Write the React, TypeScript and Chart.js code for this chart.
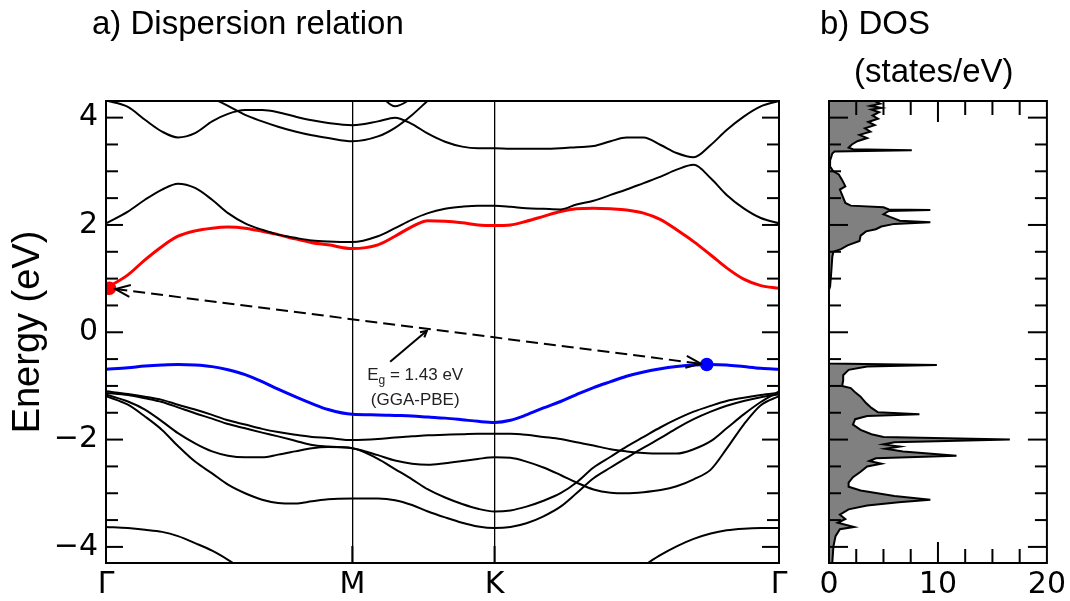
import React, { useEffect, useRef } from "react";
import { Chart, registerables } from "chart.js";

Chart.register(...registerables);

// ---------------- data ----------------
// k-path positions (Γ = 0, M = 0.866, K = 1.366, Γ = 2.366)
const K_POINTS = [
  0, 0.077, 0.137, 0.197, 0.253, 0.313, 0.373, 0.429, 0.489, 0.549, 0.605, 0.665, 0.724, 0.781, 0.866,
  0.956, 1.016, 1.076, 1.132, 1.192, 1.252, 1.308, 1.366,
  1.422, 1.478, 1.538, 1.598, 1.654, 1.714, 1.774, 1.83, 1.89, 1.95, 2.006, 2.066, 2.126, 2.182, 2.242, 2.302, 2.366,
];
const K_LABEL_POS = [0, 0.866, 1.366, 2.366];
const K_LABELS = ["Γ", "M", "K", "Γ"];
const E_MIN = -4.3;
const E_MAX = 4.31;
const E_LABEL_TICKS = [-4, -2, 0, 2, 4];

// conduction bands
const CB_RED = [
  0.82, 1.07, 1.35, 1.6, 1.79, 1.89, 1.94, 1.96, 1.94, 1.88, 1.82, 1.74, 1.67, 1.63, 1.56,
  1.63, 1.79, 1.97, 2.08, 2.07, 2.04, 2.0, 1.99,
  2.0, 2.07, 2.16, 2.25, 2.3, 2.31, 2.3, 2.28, 2.22, 2.1, 1.91, 1.69, 1.44, 1.2, 0.99, 0.87, 0.82,
];
const CB_2 = [
  2.03, 2.25, 2.47, 2.66, 2.77, 2.69, 2.47, 2.22, 2.03, 1.91, 1.82, 1.76, 1.71, 1.69, 1.68,
  1.79, 1.94, 2.1, 2.22, 2.3, 2.34, 2.36, 2.36,
  2.34, 2.31, 2.3, 2.29, 2.38, 2.45, 2.56, 2.66, 2.78, 2.9, 3.03, 3.12, 2.87, 2.56, 2.31, 2.13, 2.03,
];
const CB_3 = [
  4.32, 4.2, 3.96, 3.74, 3.63, 3.71, 3.93, 4.07, 4.14, 4.14, 4.1, 4.02, 3.95, 3.9, 3.86,
  3.93, 4.0, 3.88, 3.7, 3.55, 3.46, 3.43, 3.43,
  3.42, 3.42, 3.42, 3.43, 3.45, 3.47, 3.56, 3.63, 3.63, 3.49, 3.34, 3.26, 3.49, 3.77, 4.02, 4.21, 4.31,
];
const CB_4 = [
  null, null, null, 5.0, 4.8, 4.6, 4.37, 4.22, 4.05, 3.93, 3.83, 3.74, 3.67, 3.62, 3.56,
  3.65, 3.81, 4.05, 4.32, 4.6, 4.85, null, null,
  null, null, null, null, null, null, null, null, null, null, null, null, null, null, null, null, null,
];
const CB_5 = [
  null, null, null, null, null, null, null, null, null, null, null, null, null, null, 4.7,
  4.45, 4.21, 4.36, 4.55, null, null, null, null,
  null, null, null, null, null, null, null, null, null, null, null, null, null, null, null, null, null,
];

// valence bands
const VB_BLUE = [
  -0.69, -0.66, -0.63, -0.61, -0.6, -0.61, -0.64, -0.7, -0.79, -0.92, -1.06, -1.2, -1.33, -1.44, -1.53,
  -1.54, -1.55, -1.56, -1.58, -1.6, -1.63, -1.66, -1.68,
  -1.64, -1.54, -1.41, -1.29, -1.16, -1.03, -0.92, -0.82, -0.74, -0.68, -0.64, -0.61, -0.6, -0.61, -0.64, -0.67, -0.69,
];
const VB_2 = [
  -1.1, -1.15, -1.2, -1.26, -1.35, -1.44, -1.54, -1.64, -1.72, -1.8, -1.86, -1.91, -1.95, -1.97, -2.01,
  -1.99, -1.96, -1.94, -1.92, -1.91, -1.9, -1.89, -1.89,
  -1.89, -1.91, -1.95, -1.99, -2.05, -2.11, -2.18, -2.22, -2.25, -2.26, -2.26, -2.18, -2.03, -1.79, -1.53, -1.3, -1.1,
];
const VB_3 = [
  -1.13, -1.17, -1.23, -1.3, -1.4, -1.51, -1.61, -1.71, -1.79, -1.87, -1.94, -2.02, -2.1, -2.13, -2.16,
  -2.29, -2.39, -2.45, -2.47, -2.44, -2.4, -2.36, -2.33,
  -2.34, -2.41, -2.52, -2.66, -2.8, -2.93, -2.99, -3.0, -2.98, -2.94, -2.87, -2.74, -2.56, -2.17, -1.72, -1.36, -1.19,
];
const VB_4 = [
  -1.16, -1.29, -1.44, -1.66, -1.88, -2.07, -2.22, -2.3, -2.33, -2.33, -2.28, -2.22, -2.16, -2.14, -2.16,
  -2.36, -2.55, -2.74, -2.93, -3.08, -3.2, -3.29, -3.34,
  -3.32, -3.25, -3.14, -3.0, -2.8, -2.52, -2.32, -2.13, -1.95, -1.77, -1.62, -1.48, -1.37, -1.28, -1.22, -1.17, -1.13,
];
const VB_5 = [
  -1.19, -1.35, -1.57, -1.82, -2.12, -2.41, -2.63, -2.84, -3.0, -3.12, -3.18, -3.19, -3.15, -3.11, -3.1,
  -3.1, -3.13, -3.22, -3.34, -3.45, -3.55, -3.62, -3.65,
  -3.63, -3.56, -3.43, -3.25, -3.0, -2.72, -2.52, -2.34, -2.15, -1.97, -1.79, -1.62, -1.48, -1.37, -1.28, -1.21, -1.16,
];
const VB_6 = [
  -3.63, -3.65, -3.68, -3.72, -3.8, -3.93, -4.07, -4.24, -4.45, -4.65, null, null, null, null, null,
  null, null, null, null, null, null, null, null,
  null, null, null, null, null, null, null, -4.55, -4.35, -4.15, -3.99, -3.85, -3.75, -3.69, -3.66, -3.65, -3.65,
];

// band edges
const CBM_K = 0.012;
const CBM_E = 0.82;
const VBM_K = 2.112;
const VBM_E = -0.6;
const GAP_TEXT = " = 1.43 eV";
const GAP_METHOD = "(GGA-PBE)";

// density of states (energy in eV, states/eV)
const DOS_ENERGY = [
  4.31, 4.26, 4.22, 4.18, 4.15, 4.1, 4.04, 3.98, 3.92, 3.86, 3.8, 3.74, 3.68, 3.62, 3.56, 3.5, 3.44, 3.41, 3.39, 3.37,
  3.33, 3.2, 3.09, 3.0, 2.94, 2.84, 2.72, 2.66, 2.56, 2.41, 2.36, 2.33, 2.29, 2.28, 2.26, 2.2, 2.15, 2.08, 2.05, 2.02,
  1.97, 1.92, 1.88, 1.8, 1.7, 1.62, 1.55, 1.5, 1.4, 1.1, 0.85, 0.79, -0.58, -0.61, -0.64, -0.7, -0.8, -0.9, -1.0, -1.04,
  -1.12, -1.2, -1.32, -1.41, -1.49, -1.53, -1.56, -1.62, -1.72, -1.82, -1.9, -1.95, -2.0, -2.05, -2.09, -2.13, -2.17, -2.22, -2.3, -2.35,
  -2.4, -2.45, -2.5, -2.6, -2.7, -2.8, -2.88, -2.95, -3.05, -3.12, -3.17, -3.23, -3.3, -3.4, -3.48, -3.55, -3.63, -3.67, -3.8, -4.0,
  -4.3,
];
const DOS_STATES = [
  4.2, 4.7, 3.8, 4.8, 3.9, 4.6, 4.0, 4.5, 3.6, 4.2, 3.3, 3.8, 2.8, 3.5, 2.6, 2.1, 1.8, 2.2, 7.6, 0.5,
  0.3, 0.1, 0.1, 0.4, 0.9, 1.2, 1.5, 1.0, 1.2, 1.5, 2.0, 5.0, 5.5, 9.3, 5.5, 5.0, 5.6, 6.5, 9.3, 6.0,
  4.8, 4.3, 3.4, 2.9, 2.8, 1.7, 1.1, 0.4, 0.3, 0.2, 0.1, 0, 0, 9.9, 3.5, 1.8, 1.3, 1.3, 1.2, 2.0,
  2.4, 2.9, 3.4, 3.9, 4.5, 8.3, 3.5, 2.4, 2.2, 2.9, 3.9, 5.0, 16.6, 6.0, 5.0, 6.5, 5.2, 6.8, 11.7, 4.3,
  3.7, 4.8, 3.5, 2.9, 2.2, 1.8, 1.8, 2.9, 6.0, 9.3, 6.4, 3.5, 1.8, 1.0, 1.5, 0.8, 2.3, 1.0, 0.6, 0.4,
  0.3,
];
const DOS_LABEL_TICKS = [0, 10, 20];

// ---------------- helpers ----------------
const TITLE_FONT = '"Liberation Sans", Arial, sans-serif';
const TICK_FONT = '"DejaVu Sans", sans-serif';
const fmtE = (v: number) => (v < 0 ? "\u2212" + Math.abs(v) : String(v));
const toPoints = (vals: (number | null)[]) => K_POINTS.map((k, i) => ({ x: k, y: vals[i] }));

const bandSet = (vals: (number | null)[], color: string, width: number) => ({
  data: toPoints(vals),
  borderColor: color,
  borderWidth: width,
  pointRadius: 0,
  cubicInterpolationMode: "monotone",
  fill: false,
  spanGaps: false,
});

const dotSet = (k: number, e: number, color: string) => ({
  data: [{ x: k, y: e }],
  showLine: false,
  clip: 0,
  pointRadius: 6.8,
  pointBackgroundColor: color,
  pointBorderWidth: 0,
  borderWidth: 0,
  borderColor: color,
});

function seg(ctx: any, x1: number, y1: number, x2: number, y2: number) {
  ctx.beginPath();
  ctx.moveTo(x1, y1);
  ctx.lineTo(x2, y2);
  ctx.stroke();
}

function openHead(ctx: any, tx: number, ty: number, ang: number, hl: number, ha: number) {
  ctx.beginPath();
  ctx.moveTo(tx - hl * Math.cos(ang - ha), ty - hl * Math.sin(ang - ha));
  ctx.lineTo(tx, ty);
  ctx.lineTo(tx - hl * Math.cos(ang + ha), ty - hl * Math.sin(ang + ha));
  ctx.stroke();
}

const bandDecor = {
  id: "bandDecor",
  afterDraw(chart: any) {
    const { ctx, chartArea: a } = chart;
    const xs = chart.scales.x;
    const ys = chart.scales.y;
    ctx.save();
    ctx.strokeStyle = "#000";
    ctx.lineWidth = 2;
    for (let i = -8; i <= 8; i++) {
      const v = i / 2;
      const py = ys.getPixelForValue(v);
      const len = E_LABEL_TICKS.includes(v) ? 17 : 12;
      seg(ctx, a.left, py, a.left + len, py);
      seg(ctx, a.right, py, a.right - len, py);
    }
    for (const k of [K_LABEL_POS[1], K_LABEL_POS[2]]) {
      const px = xs.getPixelForValue(k);
      seg(ctx, px, a.bottom, px, a.bottom - 17);
    }
    ctx.strokeRect(a.left, a.top, a.right - a.left, a.bottom - a.top);

    // dashed gap arrow from CBM to VBM
    const x1 = xs.getPixelForValue(CBM_K);
    const y1 = ys.getPixelForValue(CBM_E);
    const x2 = xs.getPixelForValue(VBM_K);
    const y2 = ys.getPixelForValue(VBM_E);
    const dx = x2 - x1;
    const dy = y2 - y1;
    const L = Math.hypot(dx, dy);
    const ux = dx / L;
    const uy = dy / L;
    const sx = x1 + ux * 6;
    const sy = y1 + uy * 6;
    const ex = x2 - ux * 6;
    const ey = y2 - uy * 6;
    ctx.lineWidth = 2;
    ctx.setLineDash([12, 6]);
    seg(ctx, sx, sy, ex, ey);
    ctx.setLineDash([]);
    const ang = Math.atan2(dy, dx);
    openHead(ctx, ex, ey, ang, 16, 0.38);
    openHead(ctx, sx, sy, ang + Math.PI, 16, 0.38);

    // annotation arrow pointing at dashed line
    const hx = xs.getPixelForValue(1.128);
    const hy = y1 + ((hx - x1) / dx) * dy + 2;
    const tx = xs.getPixelForValue(0.999);
    const ty = ys.getPixelForValue(-0.55);
    ctx.lineWidth = 2;
    seg(ctx, tx, ty, hx, hy);
    openHead(ctx, hx, hy, Math.atan2(hy - ty, hx - tx), 7, 0.5);

    // annotation text
    const cx = xs.getPixelForValue(1.087);
    const b1 = ys.getPixelForValue(-0.885);
    const b2 = ys.getPixelForValue(-1.35);
    ctx.fillStyle = "#222";
    ctx.textBaseline = "alphabetic";
    ctx.textAlign = "left";
    ctx.font = `17px ${TITLE_FONT}`;
    const wE = ctx.measureText("E").width;
    const wR = ctx.measureText(GAP_TEXT).width;
    ctx.font = `12px ${TITLE_FONT}`;
    const wG = ctx.measureText("g").width;
    const total = wE + wG + wR;
    const px0 = cx - total / 2;
    ctx.font = `17px ${TITLE_FONT}`;
    ctx.fillText("E", px0, b1);
    ctx.font = `12px ${TITLE_FONT}`;
    ctx.fillText("g", px0 + wE, b1 + 4);
    ctx.font = `17px ${TITLE_FONT}`;
    ctx.fillText(GAP_TEXT, px0 + wE + wG, b1);
    ctx.textAlign = "center";
    ctx.fillText(GAP_METHOD, cx, b2);

    // panel title
    ctx.fillStyle = "#000";
    ctx.textAlign = "left";
    ctx.font = `33px ${TITLE_FONT}`;
    ctx.fillText("a) Dispersion relation", 92, 34);
    ctx.restore();
  },
};

const dosDecor = {
  id: "dosDecor",
  afterDraw(chart: any) {
    const { ctx, chartArea: a } = chart;
    const xs = chart.scales.x;
    const ys = chart.scales.y;
    ctx.save();
    ctx.strokeStyle = "#000";
    ctx.lineWidth = 2;
    for (let i = -8; i <= 8; i++) {
      const v = i / 2;
      const py = ys.getPixelForValue(v);
      const len = E_LABEL_TICKS.includes(v) ? 19 : 12;
      seg(ctx, a.left, py, a.left + len, py);
      seg(ctx, a.right, py, a.right - len, py);
    }
    for (let i = 1; i < 8; i++) {
      const v = i * 2.5;
      const px = xs.getPixelForValue(v);
      const len = DOS_LABEL_TICKS.includes(v) ? 21 : 14;
      seg(ctx, px, a.bottom, px, a.bottom - len);
      seg(ctx, px, a.top, px, a.top + len);
    }
    ctx.strokeRect(a.left, a.top, a.right - a.left, a.bottom - a.top);
    ctx.fillStyle = "#000";
    ctx.textAlign = "left";
    ctx.textBaseline = "alphabetic";
    ctx.font = `33px ${TITLE_FONT}`;
    ctx.fillText("b) DOS", 20, 34);
    ctx.fillText("(states/eV)", 54, 82);
    ctx.restore();
  },
};

function bandConfig(): any {
  return {
    type: "line",
    data: {
      datasets: [
        dotSet(VBM_K, VBM_E, "#0000ff"),
        dotSet(CBM_K, CBM_E, "#ff0000"),
        bandSet(CB_2, "#000", 2),
        bandSet(CB_3, "#000", 2),
        bandSet(CB_4, "#000", 2),
        bandSet(CB_5, "#000", 2),
        bandSet(VB_2, "#000", 2),
        bandSet(VB_3, "#000", 2),
        bandSet(VB_4, "#000", 2),
        bandSet(VB_5, "#000", 2),
        bandSet(VB_6, "#000", 2),
        bandSet(CB_RED, "#ff0000", 3),
        bandSet(VB_BLUE, "#0000ff", 3),
      ],
    },
    options: {
      responsive: false,
      animation: false,
      events: [],
      layout: { padding: { left: 0, top: 101, right: 21, bottom: 0 } },
      plugins: { legend: { display: false }, tooltip: { enabled: false }, title: { display: false } },
      scales: {
        x: {
          type: "linear",
          min: 0,
          max: 2.366,
          afterBuildTicks: (s: any) => {
            s.ticks = K_LABEL_POS.map((v) => ({ value: v }));
          },
          afterFit: (s: any) => {
            s.height = 38;
          },
          ticks: {
            autoSkip: false,
            maxRotation: 0,
            padding: 4,
            color: "#000",
            font: { family: TICK_FONT, size: 30 },
            callback: (_v: any, i: number) => K_LABELS[i],
          },
          grid: {
            drawTicks: false,
            lineWidth: 1.3,
            color: (c: any) => (c.index === 1 || c.index === 2 ? "#000" : "rgba(0,0,0,0)"),
          },
          border: { display: false },
        },
        y: {
          type: "linear",
          min: E_MIN,
          max: E_MAX,
          afterBuildTicks: (s: any) => {
            s.ticks = E_LABEL_TICKS.map((v) => ({ value: v }));
          },
          afterFit: (s: any) => {
            s.width = 106;
          },
          ticks: {
            padding: 8,
            color: "#000",
            font: { family: TICK_FONT, size: 30 },
            callback: (v: any) => fmtE(Number(v)),
          },
          grid: { display: false, drawTicks: false },
          border: { display: false },
          title: {
            display: true,
            text: "Energy (eV)",
            color: "#000",
            font: { family: TITLE_FONT, size: 38 },
            padding: { top: 6, bottom: 0 },
          },
        },
      },
    },
    plugins: [bandDecor],
  };
}

function dosConfig(): any {
  const pts = DOS_ENERGY.map((e, i) => ({ x: DOS_STATES[i], y: e })).reverse();
  return {
    type: "line",
    data: {
      datasets: [
        {
          data: pts,
          borderColor: "#000",
          borderWidth: 2,
          backgroundColor: "#808080",
          fill: "origin",
          pointRadius: 0,
          tension: 0,
        },
      ],
    },
    options: {
      indexAxis: "y",
      responsive: false,
      animation: false,
      events: [],
      layout: { padding: { left: 29, top: 101, right: 23, bottom: 0 } },
      plugins: { legend: { display: false }, tooltip: { enabled: false }, title: { display: false } },
      scales: {
        x: {
          type: "linear",
          min: 0,
          max: 20,
          afterBuildTicks: (s: any) => {
            s.ticks = DOS_LABEL_TICKS.map((v) => ({ value: v }));
          },
          afterFit: (s: any) => {
            s.height = 38;
          },
          ticks: {
            autoSkip: false,
            maxRotation: 0,
            padding: 4,
            color: "#000",
            font: { family: TICK_FONT, size: 30 },
          },
          grid: { display: false, drawTicks: false },
          border: { display: false },
        },
        y: {
          type: "linear",
          min: E_MIN,
          max: E_MAX,
          display: false,
        },
      },
    },
    plugins: [dosDecor],
  };
}

export default function App() {
  const bandRef = useRef<HTMLCanvasElement | null>(null);
  const dosRef = useRef<HTMLCanvasElement | null>(null);

  useEffect(() => {
    const c1 = new Chart(bandRef.current as HTMLCanvasElement, bandConfig());
    const c2 = new Chart(dosRef.current as HTMLCanvasElement, dosConfig());
    return () => {
      c1.destroy();
      c2.destroy();
    };
  }, []);

  return (
    <div style={{ position: "fixed", left: 0, top: 0, width: 1070, height: 601, background: "#fff" }}>
      <canvas
        ref={bandRef}
        width={800}
        height={601}
        style={{ position: "absolute", left: 0, top: 0, width: 800, height: 601 }}
      />
      <canvas
        ref={dosRef}
        width={270}
        height={601}
        style={{ position: "absolute", left: 800, top: 0, width: 270, height: 601 }}
      />
    </div>
  );
}
